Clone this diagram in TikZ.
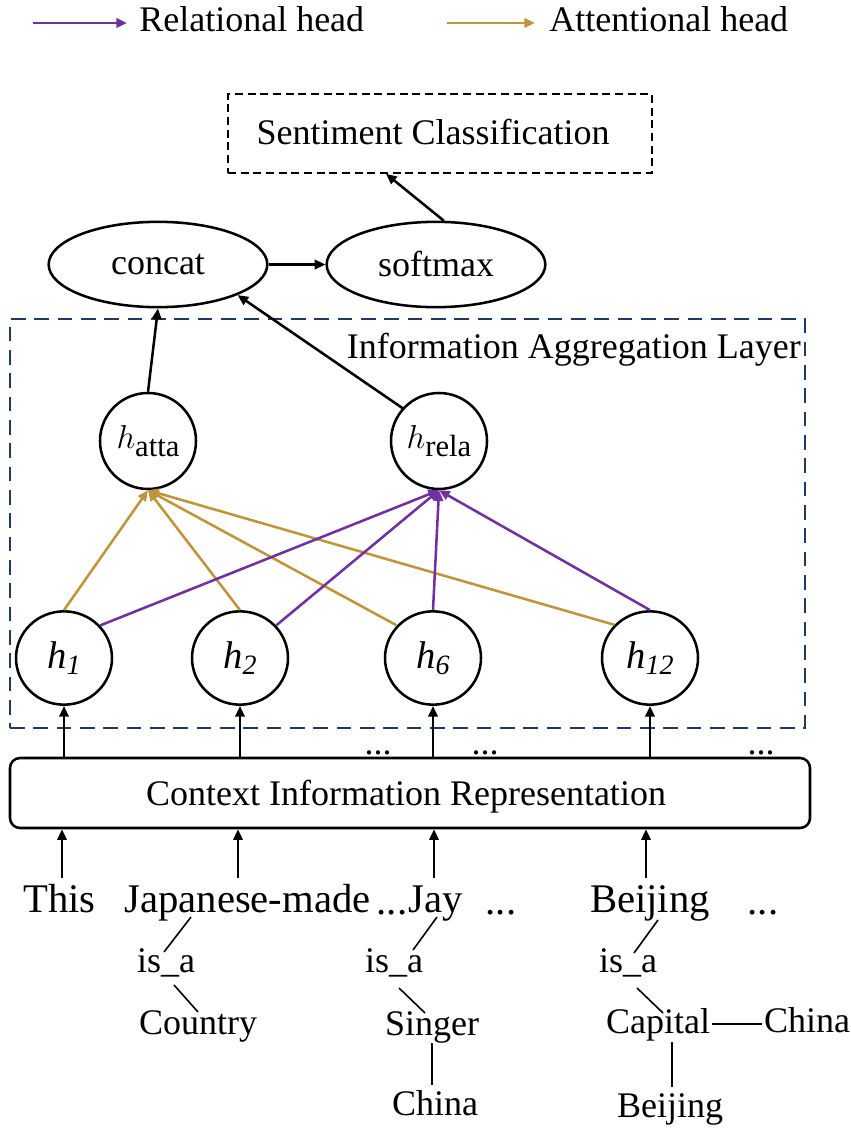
\documentclass[tikz,border=0pt]{standalone}
\usepackage{fontspec}
\setmainfont{Liberation Serif}
\usetikzlibrary{arrows.meta,shapes.geometric,calc}
\definecolor{rel}{HTML}{7030A0}
\definecolor{att}{HTML}{C0953A}
\definecolor{navy}{HTML}{203864}
\begin{document}
\begin{tikzpicture}[x=0.75pt,y=-0.75pt,
 txt/.style={font=\fontsize{27}{30}\selectfont, inner sep=0pt, anchor=base},
 wrd/.style={font=\fontsize{30.5}{32}\selectfont, inner sep=0pt, anchor=base},
 oval/.style={draw, ellipse, line width=1.9pt, minimum width=164pt, minimum height=64pt, inner sep=0pt, font=\fontsize{27}{30}\selectfont},
 hbig/.style={draw, circle, line width=1.9pt, minimum size=72pt, inner sep=0pt, font=\fontsize{31}{30}\selectfont},
 hsmall/.style={draw, ellipse, line width=1.9pt, minimum width=72pt, minimum height=70pt, inner sep=0pt, font=\fontsize{29}{30}\selectfont},
 arr/.style={-{Triangle[length=8pt,width=7pt]}, line width=1.9pt},
 relarr/.style={-{Triangle[length=8pt,width=7pt]}, line width=1.9pt, draw=rel, fill=rel},
 attarr/.style={-{Triangle[length=8pt,width=7pt]}, line width=1.9pt, draw=att, fill=att},
 kg/.style={line width=1.2pt}
]
\useasboundingbox (0,0) rectangle (850,1130);

% legend
\coordinate (l1s) at (33,23); \coordinate (l1e) at (127,23);
\coordinate (l2s) at (447,23); \coordinate (l2e) at (535,23);
\draw[relarr] (l1s) -- (l1e);
\draw[attarr] (l2s) -- (l2e);
\node[txt, anchor=base west] (lrel) at (139,32) {Relational head};
\node[txt, anchor=base west] (latt) at (549,32) {Attentional head};

% top
\node[draw, dashed, dash pattern=on 6pt off 3.5pt, line width=1.2pt, minimum width=318pt, minimum height=59.25pt, inner sep=0pt] (sent) at (440,133.5) {};
\node[txt] (senttxt) at (433,145) {Sentiment Classification};
\node[oval] (concat) at (158,264.5) {concat};
\node[oval] (softmax) at (436,264.5) {softmax};
\draw[arr] (concat.east) -- (softmax.west);
\draw[arr] (softmax.80) -- ([xshift=-40.5pt]sent.south);

% aggregation layer
\node[draw=navy, dashed, dash pattern=on 11pt off 6.5pt, line width=2pt, minimum width=596.25pt, minimum height=306.75pt, inner sep=0pt] (iagl) at (407.5,523.5) {};
\node[txt, anchor=base east] (iagltxt) at (801,358) {Information Aggregation Layer};

\node[hbig] (hatta) at (148,441) {$h$\raisebox{-0.45ex}{\fontsize{23}{23}\selectfont atta}};
\node[hbig] (hrela) at (439,441) {$h$\raisebox{-0.45ex}{\fontsize{23}{23}\selectfont rela}};
\draw[arr] (hatta.north) -- (concat.south);
\draw[arr] (hrela.138) -- (concat.-21);

\node[hsmall] (h1) at (64,658) {\textit{h}\raisebox{-0.35ex}{\fontsize{21}{21}\selectfont\itshape 1}};
\node[hsmall] (h2) at (240,658) {\textit{h}\raisebox{-0.35ex}{\fontsize{21}{21}\selectfont\itshape 2}};
\node[hsmall] (h6) at (433,658) {\textit{h}\raisebox{-0.35ex}{\fontsize{21}{21}\selectfont\itshape 6}};
\node[hsmall] (h12) at (650,658) {\textit{h}\raisebox{-0.35ex}{\fontsize{21}{21}\selectfont\itshape 12}};

\draw[attarr] (h1.north) -- (hatta.south);
\draw[attarr] (h2.north) -- (hatta.south);
\draw[attarr] (h6.138) -- (hatta.south);
\draw[attarr] (h12.137) -- (hatta.south);
\draw[relarr] (h1.42) -- (hrela.south);
\draw[relarr] (h2.42) -- (hrela.south);
\draw[relarr] (h6.north) -- (hrela.south);
\draw[relarr] (h12.north) -- (hrela.south);

% context box
\node[draw, rounded corners=7.5pt, line width=1.9pt, minimum width=600pt, minimum height=52.5pt, inner sep=0pt] (cir) at (410,793) {};
\node[txt] (cirtxt) at (406,805) {Context Information Representation};
\foreach \n in {h1,h2,h6,h12} \draw[arr] (\n.south |- cir.north) -- (\n.south);
\node[txt] (d1) at (378,754) {...};
\node[txt] (d2) at (485,754) {...};
\node[txt] (d3) at (761,754) {...};

% words
\node[wrd] (wthis) at (59.5,912) {This};
\node[wrd] (wjm) at (247.5,912) {Japanese-made};
\node[wrd] (wd1) at (392,914) {...};
\node[wrd] (wjay) at (436,912) {Jay};
\node[wrd] (wd2) at (501,914) {...};
\node[wrd] (wbj) at (650,912) {Beijing};
\node[wrd] (wd3) at (763,914) {...};
\foreach \x/\w in {62/wthis,238/wjm,434/wjay,646/wbj} {
  \coordinate (s\w) at (\x,878);
  \draw[arr] (s\w) -- (s\w |- cir.south);
}

% knowledge graph
\node[txt] (isa1) at (166,972) {is\_a};
\node[txt] (country) at (198,1034) {Country};
\node[txt] (isa2) at (394,972) {is\_a};
\node[txt] (singer) at (432,1035) {Singer};
\node[txt] (china1) at (435,1115) {China};
\node[txt] (isa3) at (628,972) {is\_a};
\node[txt] (capital) at (658,1033) {Capital};
\node[txt] (china2) at (807,1032) {China};
\node[txt] (beijing2) at (670,1117) {Beijing};

\coordinate (k1a) at (191,917); \coordinate (k1b) at (164,952);
\coordinate (k2a) at (174,985); \coordinate (k2b) at (198,1012);
\coordinate (k3a) at (437,917); \coordinate (k3b) at (413,950);
\coordinate (k4a) at (399,988); \coordinate (k4b) at (425,1013);
\coordinate (k5a) at (432,1043); \coordinate (k5b) at (432,1085);
\coordinate (k6a) at (658,920); \coordinate (k6b) at (634,953);
\coordinate (k7a) at (637,988); \coordinate (k7b) at (663,1013);
\coordinate (k8a) at (712,1024); \coordinate (k8b) at (762,1024);
\coordinate (k9a) at (672,1042); \coordinate (k9b) at (672,1087);
\foreach \i in {1,...,9} \draw[kg] (k\i a) -- (k\i b);
\end{tikzpicture}
\end{document}
